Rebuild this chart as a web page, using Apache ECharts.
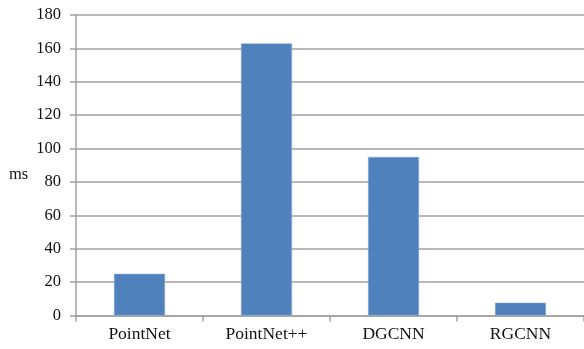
<!DOCTYPE html>
<html>
<head>
<meta charset="utf-8">
<script src="https://cdn.jsdelivr.net/npm/echarts@6/dist/echarts.min.js"></script>
<style>
  html, body { margin: 0; padding: 0; background: #fff; }
  #chart { width: 584px; height: 349px; }
</style>
</head>
<body>
<div id="chart"></div>
<script>
// Inference time per model, in milliseconds
const models = ['PointNet', 'PointNet++', 'DGCNN', 'RGCNN'];
const timesMs = [25, 163, 95, 7.7];
const yMin = 0;
const yMax = 180;
const yStep = 20;

const chart = echarts.init(document.getElementById('chart'));
const serif = '"Liberation Serif", "Times New Roman", serif';
const lineGray = '#a0a0a0';

chart.setOption({
  animation: false,
  grid: { left: 76, right: 0, top: 15, bottom: 33.5 },
  xAxis: {
    type: 'category',
    data: models,
    axisLine: { lineStyle: { color: lineGray, width: 1.5 } },
    axisTick: { show: true, length: 6, lineStyle: { color: lineGray, width: 1.5 } },
    axisLabel: { color: '#111', fontFamily: serif, fontSize: 17.5, margin: 10 }
  },
  yAxis: {
    type: 'value',
    min: yMin,
    max: yMax,
    interval: yStep,
    axisLine: { show: true, lineStyle: { color: lineGray, width: 1.5 } },
    axisTick: { show: true, length: 6, lineStyle: { color: lineGray, width: 1.5 } },
    axisLabel: { color: '#111', fontFamily: serif, fontSize: 16.5, margin: 15 },
    splitLine: { lineStyle: { color: lineGray, width: 1.5 } }
  },
  graphic: [{
    type: 'text',
    left: 9,
    top: 166,
    style: { text: 'ms', fontFamily: serif, fontSize: 16.5, fill: '#111' }
  }],
  series: [{
    type: 'bar',
    data: timesMs,
    barWidth: 51,
    itemStyle: { color: '#4f81bd', borderColor: '#8fb0d8', borderWidth: 0.5 }
  }]
});
</script>
</body>
</html>
